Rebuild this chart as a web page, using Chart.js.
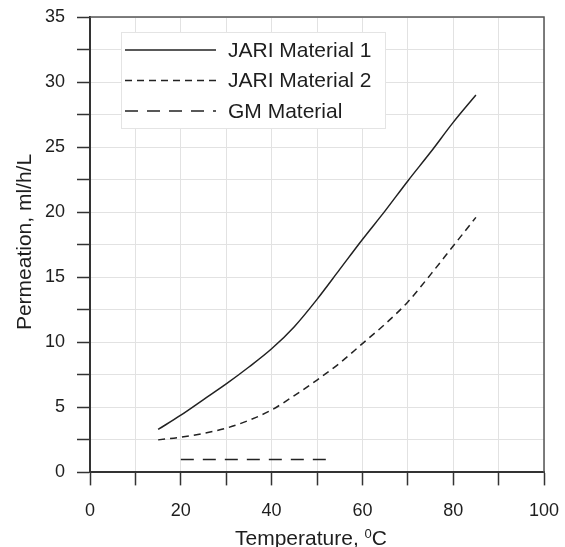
<!DOCTYPE html>
<html>
<head>
<meta charset="utf-8">
<script src="https://cdn.jsdelivr.net/npm/chart.js@4.4.1/dist/chart.umd.min.js"></script>
<style>
  html, body { margin: 0; padding: 0; background: #fff; }
  #wrap { width: 565px; height: 547px; }
</style>
</head>
<body>
<div id="wrap"><canvas id="chart" width="565" height="547"></canvas></div>
<script>
// data
var temps = [15, 20, 25, 30, 35, 40, 45, 50, 55, 60, 65, 70, 75, 80, 85];
var jari1 = [3.3, 4.4, 5.6, 6.8, 8.1, 9.5, 11.2, 13.3, 15.6, 17.9, 20.1, 22.4, 24.6, 26.9, 29.0];
var jari2 = [2.5, 2.7, 3.0, 3.4, 4.0, 4.8, 5.9, 7.1, 8.4, 9.9, 11.4, 13.1, 15.2, 17.4, 19.6];
var gmTemps = [20, 53];
var gmValues = [1.0, 1.0];
var seriesNames = ["JARI Material 1", "JARI Material 2", "GM Material"];

var xTicks = [0, 20, 40, 60, 80, 100];
var yTicks = [0, 5, 10, 15, 20, 25, 30, 35];
var yTitle = "Permeation, ml/h/L";

var FONT = "'Liberation Sans', Arial, sans-serif";
var INK = "#1e1e1e";

function pts(xs, ys) {
    var out = [];
    for (var i = 0; i < xs.length; i++) out.push({ x: xs[i], y: ys[i] });
    return out;
}

// legend box, frame and axis titles
var boxLegend = {
    id: "boxLegend",
    afterDraw: function (chart) {
        var ctx = chart.ctx;
        var ca = chart.chartArea;
        ctx.save();
        // top / right frame
        ctx.strokeStyle = "#555";
        ctx.lineWidth = 1.5;
        ctx.beginPath();
        ctx.moveTo(ca.left, ca.top);
        ctx.lineTo(ca.right, ca.top);
        ctx.lineTo(ca.right, ca.bottom);
        ctx.stroke();

        var bx = 121, by = 32, bw = 264, bh = 96;
        ctx.fillStyle = "#fff";
        ctx.fillRect(bx, by, bw, bh);
        ctx.strokeStyle = "#e4e4e4";
        ctx.lineWidth = 1;
        ctx.strokeRect(bx + 0.5, by + 0.5, bw, bh);

        ctx.font = "21px " + FONT;
        ctx.textBaseline = "middle";
        chart.data.datasets.forEach(function (ds, i) {
            var y = by + 18 + i * 30.5;
            ctx.strokeStyle = ds.borderColor;
            ctx.lineWidth = ds.borderWidth;
            ctx.setLineDash(ds.borderDash || []);
            ctx.beginPath();
            ctx.moveTo(bx + 4, y);
            ctx.lineTo(bx + 95, y);
            ctx.stroke();
            ctx.setLineDash([]);
            ctx.fillStyle = INK;
            ctx.fillText(ds.label, bx + 107, y + 1);
        });

        // y title
        ctx.save();
        ctx.translate(25, 242);
        ctx.rotate(-Math.PI / 2);
        ctx.textAlign = "center";
        ctx.textBaseline = "middle";
        ctx.font = "21px " + FONT;
        ctx.fillStyle = INK;
        ctx.fillText(yTitle, 0, 0);
        ctx.restore();

        // x title with superscript 0
        var cx = 311;
        var base = 545;
        ctx.fillStyle = INK;
        ctx.textBaseline = "alphabetic";
        var a = "Temperature, ", c = "C";
        ctx.font = "21px " + FONT;
        var wa = ctx.measureText(a).width, wc = ctx.measureText(c).width;
        ctx.font = "13px " + FONT;
        var wb = ctx.measureText("0").width;
        var x0 = cx - (wa + wb + wc) / 2;
        ctx.font = "21px " + FONT;
        ctx.fillText(a, x0, base);
        ctx.font = "13px " + FONT;
        ctx.fillText("0", x0 + wa, base - 7);
        ctx.font = "21px " + FONT;
        ctx.fillText(c, x0 + wa + wb, base);
        ctx.restore();
    }
};

var chart = new Chart(document.getElementById("chart"), {
    type: "line",
    data: {
        datasets: [{
            label: seriesNames[0],
            data: pts(temps, jari1),
            borderColor: "#222",
            borderWidth: 1.5,
            pointRadius: 0,
            cubicInterpolationMode: "monotone"
        }, {
            label: seriesNames[1],
            data: pts(temps, jari2),
            borderColor: "#222",
            borderWidth: 1.5,
            borderDash: [7, 5],
            pointRadius: 0,
            cubicInterpolationMode: "monotone"
        }, {
            label: seriesNames[2],
            data: pts(gmTemps, gmValues),
            borderColor: "#222",
            borderWidth: 1.5,
            borderDash: [13, 9],
            pointRadius: 0
        }]
    },
    options: {
        responsive: false,
        animation: false,
        layout: { padding: { top: 17, right: 21, bottom: 10, left: 33 } },
        plugins: {
            legend: { display: false },
            tooltip: { enabled: false }
        },
        scales: {
            x: {
                type: "linear",
                min: 0,
                max: 100,
                afterFit: function (s) { s.paddingRight = 0; },
                grid: { color: "#e2e2e2", lineWidth: 1, tickLength: 13, tickColor: "#333", tickWidth: 1.5 },
                border: { color: "#333", width: 2 },
                ticks: {
                    stepSize: 10,
                    autoSkip: false,
                    maxRotation: 0,
                    padding: 15,
                    color: INK,
                    font: { family: FONT, size: 18 },
                    callback: function (v) { return xTicks.indexOf(v) >= 0 ? String(v) : ""; }
                }
            },
            y: {
                min: 0,
                max: 35,
                afterFit: function (s) { s.paddingTop = 0; },
                grid: { color: "#e2e2e2", lineWidth: 1, tickLength: 13, tickColor: "#333", tickWidth: 1.5 },
                border: { color: "#333", width: 2 },
                ticks: {
                    stepSize: 2.5,
                    autoSkip: false,
                    padding: 12,
                    color: INK,
                    font: { family: FONT, size: 18 },
                    callback: function (v) { return yTicks.indexOf(v) >= 0 ? String(v) : ""; }
                }
            }
        }
    },
    plugins: [boxLegend]
});
</script>
</body>
</html>
